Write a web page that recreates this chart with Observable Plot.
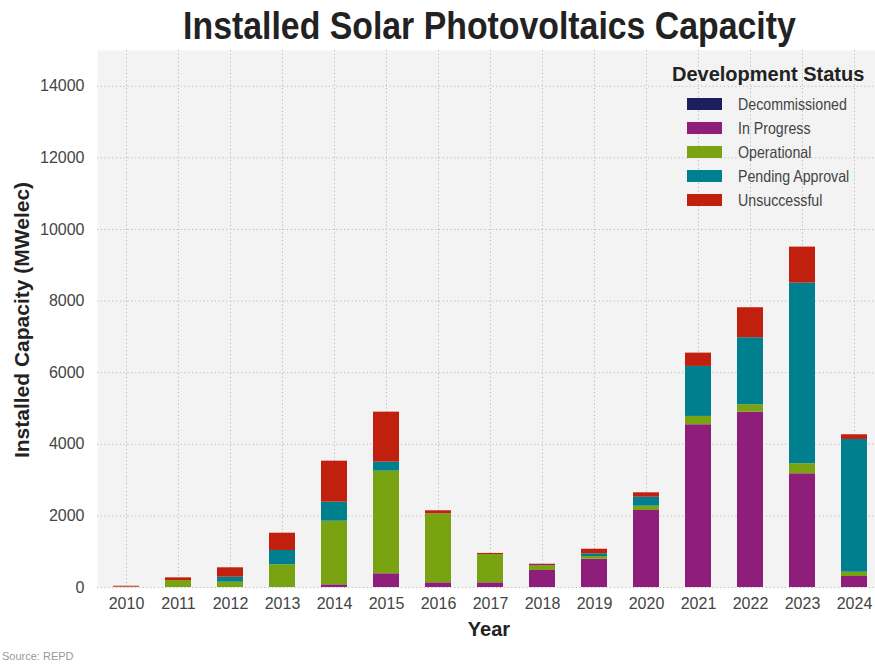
<!DOCTYPE html>
<html>
<head>
<meta charset="utf-8">
<script src="https://cdn.jsdelivr.net/npm/d3@7"></script>
<script src="https://cdn.jsdelivr.net/npm/@observablehq/plot@0.6"></script>
<style>
  html, body { margin: 0; padding: 0; background: #fff; }
  #wrap { position: relative; width: 875px; height: 664px; overflow: hidden; background: #fff; }
  #title {
    position: absolute; left: 97px; width: 785px; top: 4px; text-align: center;
    font-family: "Liberation Sans", Arial, sans-serif;
    font-weight: bold; font-size: 38px; color: #222; line-height: 44px; white-space: nowrap;
    transform: scaleX(0.89); transform-origin: 392px 0;
  }
  #chart { position: absolute; left: 0; top: 50px; }
  #chart svg { max-width: none; }
  #ylabel {
    position: absolute; left: 22px; top: 320px; transform: translate(-50%, -50%) rotate(-90deg);
    font-family: "Liberation Sans", Arial, sans-serif;
    font-weight: bold; font-size: 21px; color: #222; white-space: nowrap;
  }
  #xlabel {
    position: absolute; left: 489px; top: 629px; transform: translate(-50%, -50%);
    font-family: "Liberation Sans", Arial, sans-serif;
    font-weight: bold; font-size: 20px; color: #222; white-space: nowrap;
  }
  #caption {
    position: absolute; left: 2px; top: 650px;
    font-family: "Liberation Sans", Arial, sans-serif; font-size: 11px; color: #999; white-space: nowrap;
  }
  #legend {
    position: absolute; left: 672px; top: 63px;
    font-family: "Liberation Sans", Arial, sans-serif; color: #444;
  }
  #legend .lt { font-weight: bold; font-size: 20px; color: #222; margin-bottom: 6px; white-space: nowrap; }
  #legend .row { display: flex; align-items: center; height: 24px; margin-left: 15px; font-size: 16.5px; white-space: nowrap; }
  #legend .row span { display: inline-block; transform: scaleX(0.86); transform-origin: 0 50%; }
  #legend .sw { width: 35px; height: 12px; margin-right: 16px; }
</style>
</head>
<body>
<div id="wrap">
  <div id="title">Installed Solar Photovoltaics Capacity</div>
  <div id="chart"></div>
  <div id="ylabel">Installed Capacity (MWelec)</div>
  <div id="xlabel">Year</div>
  <div id="legend"></div>
  <div id="caption">Source: REPD</div>
</div>
<script>
// Capacity by development status, MWelec per year
const years = ["2010", "2011", "2012", "2013", "2014", "2015", "2016", "2017",
               "2018", "2019", "2020", "2021", "2022", "2023", "2024"];
const statuses = ["Decommissioned", "In Progress", "Operational", "Pending Approval", "Unsuccessful"];
const statusColors = ["#1b1f5e", "#8e1e7a", "#7aa312", "#00808f", "#c2200e"];

const decommissioned = [0, 0, 0, 0, 0, 0, 0, 0, 0, 0, 0, 0, 0, 0, 0];
const inProgress     = [0, 0, 0, 0, 75, 383, 131, 131, 475, 791, 2151, 4546, 4898, 3177, 307];
const operational    = [10, 195, 148, 634, 1777, 2867, 1928, 790, 120, 75, 120, 232, 207, 279, 120];
const pendingApproval = [0, 0, 140, 400, 531, 251, 0, 0, 15, 75, 251, 1397, 1872, 5046, 3708];
const unsuccessful   = [25, 75, 262, 483, 1146, 1397, 84, 30, 40, 128, 123, 372, 838, 1006, 131];

const yTicks = [0, 2000, 4000, 6000, 8000, 10000, 12000, 14000];

const seriesByStatus = [decommissioned, inProgress, operational, pendingApproval, unsuccessful];
const rows = [];
statuses.forEach((s, i) => {
  years.forEach((yr, j) => rows.push({year: yr, status: s, value: seriesByStatus[i][j]}));
});

const gridStyle = {stroke: "#b9b9b9", strokeOpacity: 1, strokeWidth: 1, strokeDasharray: "1.2,2.6"};

const chart = Plot.plot({
  width: 882,
  height: 597,
  marginLeft: 97,
  marginRight: 0,
  marginTop: 0,
  marginBottom: 60,
  style: {fontFamily: "'Liberation Sans', Arial, sans-serif", background: "transparent", overflow: "visible"},
  x: {type: "band", domain: years, paddingInner: 0.5, paddingOuter: 0.257, label: null},
  y: {domain: [0, 15000], ticks: yTicks, label: null},
  color: {domain: statuses, range: statusColors},
  marks: [
    Plot.frame({fill: "#f3f3f3", stroke: "none"}),
    Plot.gridY(yTicks, gridStyle),
    Plot.gridX(years, gridStyle),
    Plot.barY(rows, Plot.stackY({
      x: "year", y: "value", fill: "status", order: statuses
    })),
    Plot.axisY(yTicks, {tickSize: 0, tickPadding: 13, fontSize: 16, fill: "#444", tickFormat: d3.format("d"), label: null}),
    Plot.axisX(years, {tickSize: 0, tickPadding: 10, fontSize: 16, fill: "#444", label: null})
  ]
});
document.getElementById("chart").appendChild(chart);

// Legend built from the same color scale
const legend = document.getElementById("legend");
const lt = document.createElement("div");
lt.className = "lt";
lt.textContent = "Development Status";
legend.appendChild(lt);
const color = chart.scale("color");
statuses.forEach(s => {
  const row = document.createElement("div");
  row.className = "row";
  const sw = document.createElement("div");
  sw.className = "sw";
  sw.style.background = color.apply(s);
  const label = document.createElement("span");
  label.textContent = s;
  row.appendChild(sw);
  row.appendChild(label);
  legend.appendChild(row);
});
</script>
</body>
</html>
